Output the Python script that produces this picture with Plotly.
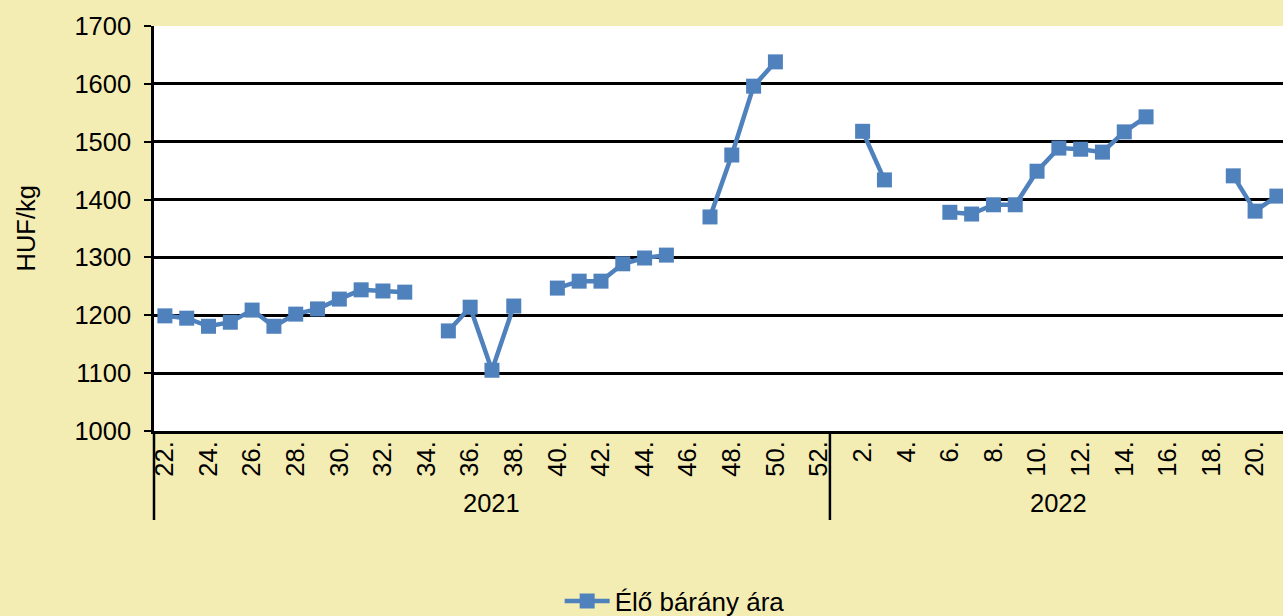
import plotly.graph_objects as go

# ---- data ----
weeks_2021 = list(range(22, 53))   # 22..52
weeks_2022 = list(range(1, 22))    # 1..21
years = ["2021", "2022"]

prices_2021 = [1199, 1195, 1181, 1188, 1209, 1181, 1202, 1211, 1228, 1244, 1242, 1240,
               None, 1173, 1214, 1105, 1216, None, 1247, 1259, 1259, 1289, 1299, 1304,
               None, 1370, 1477, 1596, 1638, None, None]
prices_2022 = [None, 1518, 1434, None, None, 1378, 1375, 1391, 1391, 1449, 1489, 1487,
               1482, 1517, 1543, None, None, None, 1441, 1380, 1406]
series_name = "Élő bárány ára"
y_title = "HUF/kg"

# ---- build ----
values = prices_2021 + prices_2022
week_labels = [f"{w}." for w in weeks_2021 + weeks_2022]
idx = list(range(len(values)))
n21 = len(weeks_2021)
n22 = len(weeks_2022)

BG = "#F4EDB3"
BLUE = "#4F81BD"
FONT = "Liberation Sans, Arial, sans-serif"
FS = 25.5

fig = go.Figure()
fig.add_trace(go.Scatter(
    x=idx, y=values, mode="lines+markers", name=series_name,
    connectgaps=False,
    line=dict(color=BLUE, width=4.5),
    marker=dict(symbol="square", size=15, color=BLUE),
))

tickvals = idx[::2]
ticktext = week_labels[::2]

fig.update_layout(
    width=1283, height=616,
    paper_bgcolor=BG, plot_bgcolor="white",
    margin=dict(l=154, r=0, t=26, b=185, autoexpand=False),
    font=dict(family=FONT, size=FS, color="black"),
    showlegend=True,
    legend=dict(orientation="h", x=0.3593, xanchor="left", y=-0.42, yanchor="middle",
                itemwidth=45,
                bgcolor="rgba(0,0,0,0)", font=dict(size=26)),
    xaxis=dict(range=[-0.5, 51.28], tickmode="array", tickvals=tickvals, ticktext=ticktext,
               tickangle=-90, ticks="", showgrid=False, zeroline=False,
               showline=True, linecolor="black", linewidth=3,
               tickfont=dict(size=FS), ticklabelstandoff=-3),
    yaxis=dict(range=[1000, 1700], dtick=100, tick0=1000, showgrid=True, gridcolor="black",
               gridwidth=2.5, zeroline=False, showline=True, linecolor="black", linewidth=2.5,
               ticks="outside", ticklen=7, tickwidth=2, tickcolor="black",
               tickfont=dict(size=FS), ticklabelstandoff=8),
)

# hierarchical axis separators & year labels
sep_bottom = (431 - 520) / 405
fig.add_shape(type="line", xref="paper", yref="paper", x0=0, x1=0, y0=0, y1=sep_bottom,
              line=dict(color="black", width=2.5))
fig.add_shape(type="line", xref="x", yref="paper", x0=n21 - 0.5, x1=n21 - 0.5, y0=0, y1=sep_bottom,
              line=dict(color="black", width=2.5))
year_centers = [(-0.5 + n21 - 0.5) / 2, (n21 - 0.5 + n21 + n22 - 0.5) / 2]
for yr, xc in zip(years, year_centers):
    fig.add_annotation(x=xc, xref="x", y=(431 - 503) / 405, yref="paper", text=yr,
                       showarrow=False, font=dict(size=FS), xanchor="center", yanchor="middle")

fig.add_annotation(x=(25 - 154) / 1129, xref="paper", y=0.5, yref="paper", text=y_title,
                   textangle=-90, showarrow=False, font=dict(size=FS),
                   xanchor="center", yanchor="middle")

fig.write_html("out.html", config={"displayModeBar": False},
               post_script="document.body.style.margin='0';document.body.style.overflow='hidden';")
